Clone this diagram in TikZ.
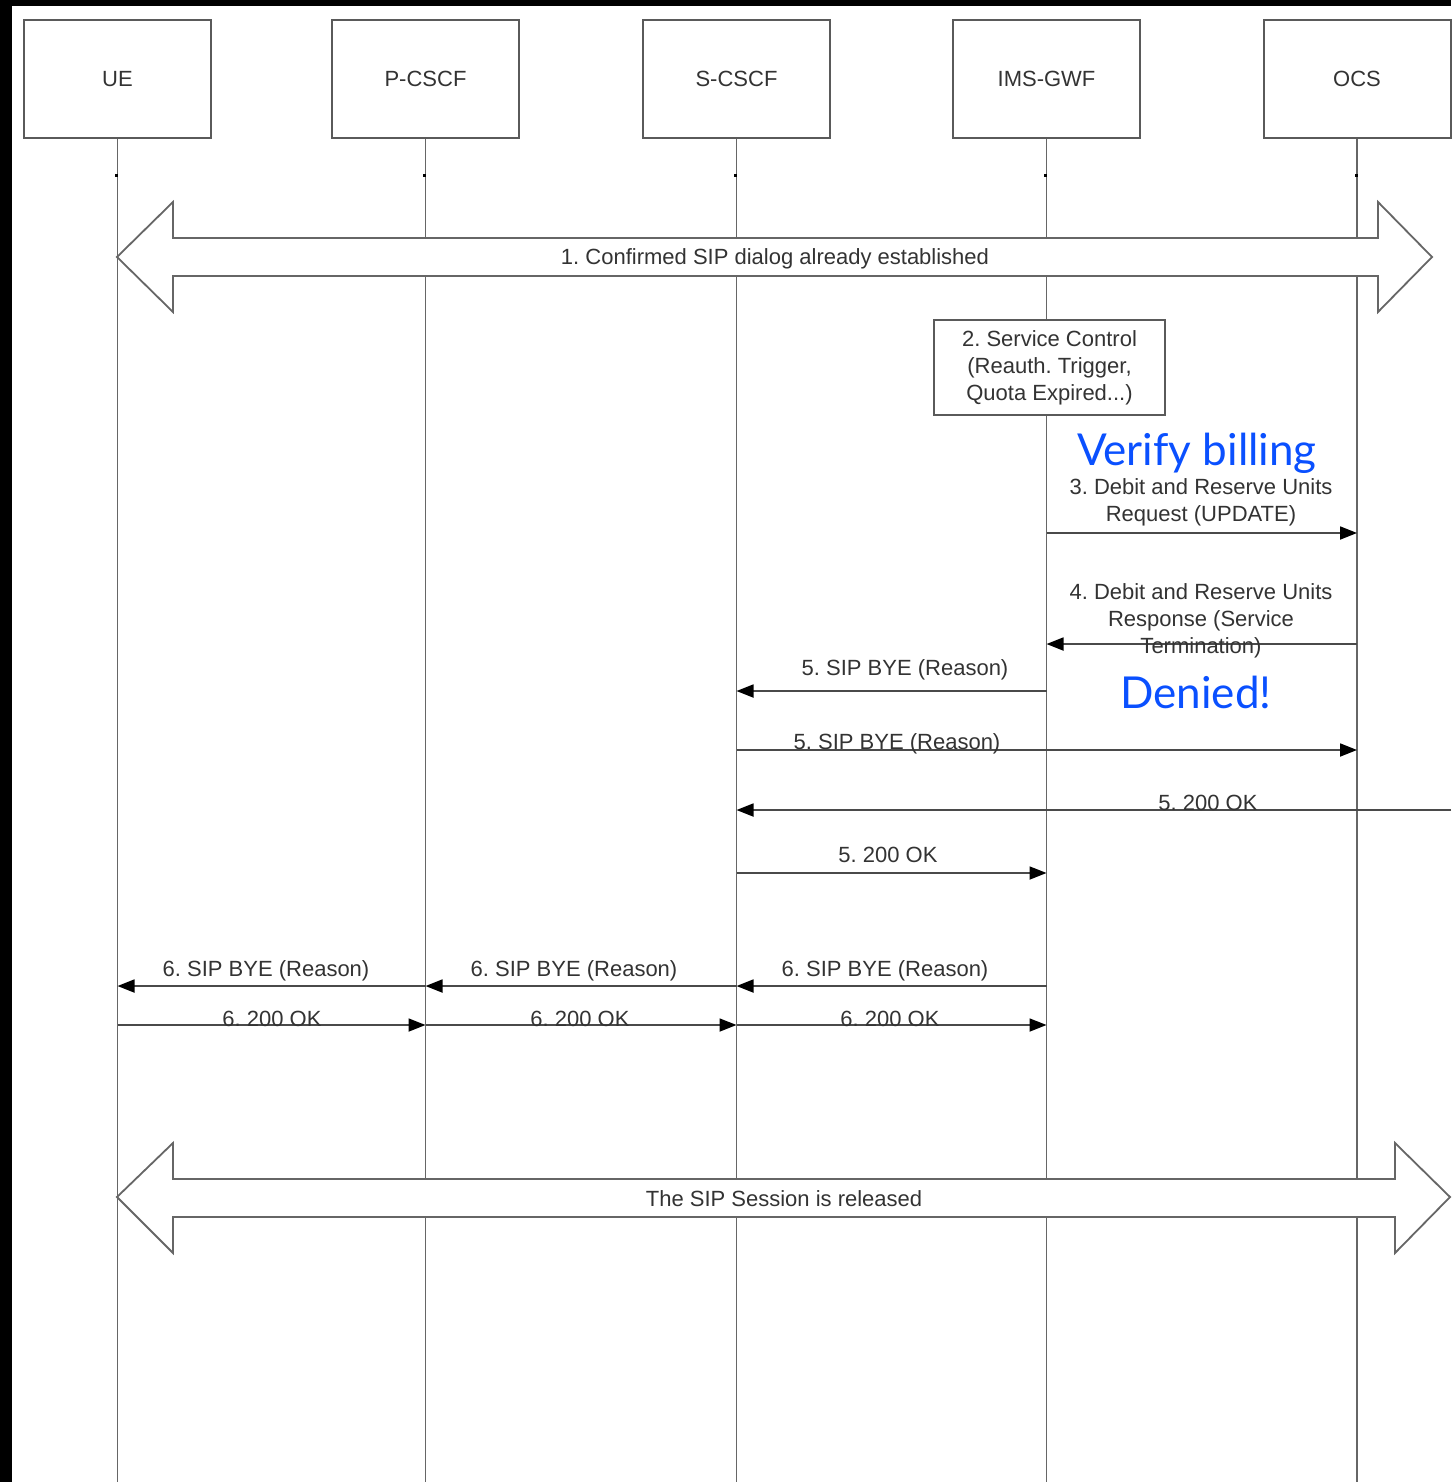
\documentclass[tikz,border=0pt]{standalone}
\usepackage{fontspec}
\setmainfont{Liberation Sans}
\newfontfamily\gillfont{Lato}
\usetikzlibrary{arrows.meta,calc}
\definecolor{boxc}{HTML}{5A5A5A}
\definecolor{linec}{HTML}{666666}
\definecolor{msgc}{HTML}{4A4A4A}
\definecolor{txt}{HTML}{333333}
\definecolor{bluec}{HTML}{0A50FF}
\frenchspacing
\begin{document}
\begin{tikzpicture}[x=1pt,y=-1pt,
  ent/.style={draw=boxc,line width=2pt,fill=white,minimum width=187pt,minimum height=118pt,inner sep=0pt,font=\fontsize{22}{24}\selectfont,text=txt},
  life/.style={draw=linec,line width=1.8pt},
  msg/.style={draw=msgc,line width=1.8pt,-{Triangle[length=17pt,width=13pt,black]}},
  lbl/.style={font=\fontsize{22}{27}\selectfont,text=txt,align=center,inner sep=0pt,yshift=-2pt},
  bluetxt/.style={font=\gillfont\fontsize{44}{50}\selectfont,text=bluec,inner sep=0pt},
  blockarrow/.style={draw=linec,line width=1.8pt,fill=white,line join=miter},
  notebox/.style={draw=boxc,line width=2pt,fill=white,minimum width=231pt,minimum height=95pt,inner sep=0pt,font=\fontsize{22}{27}\selectfont,text=txt,align=center}
]
\useasboundingbox (0,0) rectangle (1451,1482);
\fill[white] (0,0) rectangle (1451,1482);

% entity boxes
\node[ent] (ue)  at (117.5,79) {UE};
\node[ent] (pcscf) at (425.5,79) {P-CSCF};
\node[ent] (scscf) at (736.5,79) {S-CSCF};
\node[ent] (gwf) at (1046.5,79) {IMS-GWF};
\node[ent] (ocs) at (1357,79) {OCS};

% lifelines
\coordinate (bot) at (0,1482);
\foreach \n in {ue,pcscf,scscf,gwf,ocs}{
  \coordinate (\n end) at (\n.south |- bot);
}
\foreach \n in {ue,pcscf,scscf,gwf,ocs}{
  \draw[life] (\n.south) -- (\n end);
}

% ticks
\coordinate (tick) at (0,175.5);
\foreach \n in {ue,pcscf,scscf,gwf,ocs}{
  \fill[black] ($(\n |- tick)+(-2.5,-1.2)$) rectangle ($(\n |- tick)+(0.5,1.2)$);
}

% block arrow 1
\draw[blockarrow] (117,257) -- (173,202) -- (173,238) -- (1378,238) -- (1378,202) -- (1432,257) -- (1378,312) -- (1378,276) -- (173,276) -- (173,312) -- cycle;
\node[lbl] (t1) at (775,257) {1. Confirmed SIP dialog already established};

% note 2
\node[notebox] (n2) at (1049.5,367.5) {2. Service Control\\(Reauth. Trigger,\\Quota Expired...)};

\node[bluetxt] (vb) at (1197,453) {Verify billing};

% rows
\coordinate (r3) at (0,533);
\coordinate (r4) at (0,644);
\coordinate (r5a) at (0,691);
\coordinate (r5b) at (0,750);
\coordinate (r5c) at (0,810);
\coordinate (r5d) at (0,873);
\coordinate (r6a) at (0,986);
\coordinate (r6b) at (0,1025);
\coordinate (edge) at (1451,810);

\draw[msg] (gwf |- r3) -- (ocs |- r3);
\node[lbl] (l3) at (1201,500.5) {3. Debit and Reserve Units\\Request (UPDATE)};

\draw[msg] (ocs |- r4) -- (gwf |- r4);
\node[lbl] (l4) at (1201,619) {4. Debit and Reserve Units\\Response (Service\\Termination)};

\draw[msg] (gwf |- r5a) -- (scscf |- r5a);
\node[lbl] (l5a) at (905,668) {5. SIP BYE (Reason)};

\node[bluetxt] (den) at (1196,692) {Denied!};

\draw[msg] (scscf |- r5b) -- (ocs |- r5b);
\node[lbl] (l5b) at (897,742) {5. SIP BYE (Reason)};

\draw[msg] (edge) -- (scscf |- r5c);
\node[lbl] (l5c) at (1208,801) {5. 200 OK};

\draw[msg] (scscf |- r5d) -- (gwf |- r5d);
\node[lbl] (l5d) at (888,853) {5. 200 OK};

\draw[msg] (gwf |- r6a) -- (scscf |- r6a);
\draw[msg] (scscf |- r6a) -- (pcscf |- r6a);
\draw[msg] (pcscf |- r6a) -- (ue |- r6a);
\node[lbl] (l6a) at (266,969) {6. SIP BYE (Reason)};
\node[lbl] (l6b) at (574,969) {6. SIP BYE (Reason)};
\node[lbl] (l6c) at (885,969) {6. SIP BYE (Reason)};

\draw[msg] (ue |- r6b) -- (pcscf |- r6b);
\draw[msg] (pcscf |- r6b) -- (scscf |- r6b);
\draw[msg] (scscf |- r6b) -- (gwf |- r6b);
\node[lbl] (l6d) at (272,1017) {6. 200 OK};
\node[lbl] (l6e) at (580,1017) {6. 200 OK};
\node[lbl] (l6f) at (890,1017) {6. 200 OK};

% block arrow 2
\draw[blockarrow] (117,1197) -- (173,1143) -- (173,1179) -- (1395,1179) -- (1395,1143) -- (1450,1197) -- (1395,1253) -- (1395,1217) -- (173,1217) -- (173,1253) -- cycle;
\node[lbl] (t2) at (784,1197) {The SIP Session is released};

% black frame bars
\fill[black] (0,0) rectangle (12,1482);
\fill[black] (0,0) rectangle (1451,6);
\end{tikzpicture}
\end{document}
